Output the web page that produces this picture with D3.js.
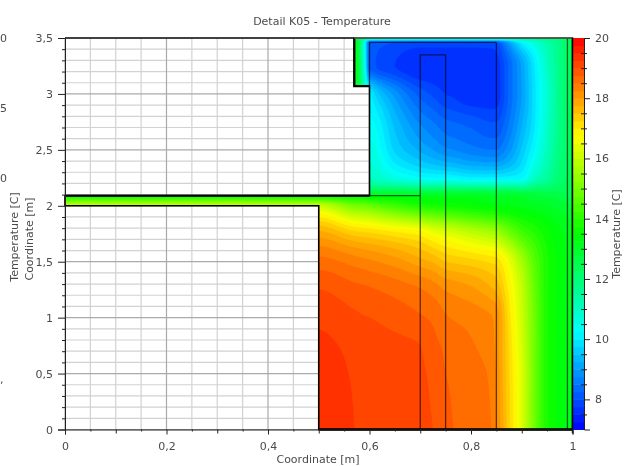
<!DOCTYPE html>
<html><head><meta charset="utf-8">
<script src="https://cdn.jsdelivr.net/npm/d3@7"></script>
<style>
html,body{margin:0;padding:0;background:#fff}
svg{display:block;filter:blur(0.45px)}
text{font-family:"DejaVu Sans",sans-serif;fill:#4a4a4a}
.axis path,.axis line{stroke:#222}
.axis text{font-size:11px;fill:#4a4a4a;font-family:"DejaVu Sans",sans-serif}
</style></head><body><svg id="c" width="624" height="466"></svg>
<script>
const gridX=[0,.5,.57,.59,.6,.65,.7,.725,.75,.765,.8,.84,.85,.875,.9,.925,.95,.975,.99,1];
const gridY=[0,.25,.5,.75,1,1.25,1.5,1.75,2,2.09,2.25,2.5,2.75,3,3.25,3.46,3.5];
const temperature=[
[19.5,19.5,19.25,19.22,19.2,19.12,19.05,19.0,18.82,18.75,18.65,18.5,18.25,17.3,16.3,14.9,13.8,13.4,13.2,13],
[19.45,19.45,19.24,19.2,19.18,19.11,19.04,18.98,18.8,18.73,18.63,18.48,18.22,17.28,16.3,14.9,13.8,13.4,13.2,13],
[19.38,19.38,19.22,19.18,19.17,19.1,19.03,18.95,18.75,18.7,18.6,18.45,18.2,17.25,16.3,14.9,13.8,13.4,13.2,13],
[19.3,19.3,19.18,19.14,19.12,19.06,19.0,18.83,18.7,18.65,18.53,18.35,18.15,17.2,16.2,14.9,13.8,13.4,13.2,13],
[19.2,19.2,19.05,19.01,19,18.9,18.78,18.7,18.53,18.48,18.4,18.27,18.15,17.1,16.1,14.9,13.8,13.4,13.2,13],
[19,19,18.83,18.8,18.78,18.66,18.52,18.4,18.23,18.18,18.06,17.8,17.7,16.9,16.0,14.8,13.8,13.4,13.2,13],
[18.6,18.6,18.4,18.33,18.3,18.12,17.85,17.72,17.5,17.45,17.35,17.2,17.15,16.5,15.6,14.6,13.8,13.4,13.2,13],
[17.85,17.85,17.4,17.33,17.3,17.1,16.9,16.6,16.4,16.3,16,15.7,15.6,15,14.4,14,13.6,13.3,13.2,13],
[16,16,15.0,14.9,14.8,14.3,13.9,13.8,13.7,13.65,13.55,13.4,13.35,13.3,13.2,13.1,13,12.9,12.8,12.7],
[13.5,13.5,13.4,13.3,13.2,13.2,13.1,13.1,13.1,13.1,13.1,13,13,13,12.9,12.8,12.7,12.6,12.5,12.4],
[11,11,11,11,11,10.6,10.3,10.25,10.25,10.2,10.05,10.05,10.05,10.1,10.2,11,11.5,12.1,12.3,12.4],
[10.6,10.6,10.6,10.6,10.6,9.7,9.2,9,8.8,8.75,8.6,8.5,8.5,8.9,9.55,10.25,11.1,11.9,12.2,12.4],
[10.3,10.3,10.3,10.3,10.3,9.4,8.7,8.5,8.3,8.25,8.15,8.0,8.0,8.5,9.2,9.95,10.9,11.8,12.2,12.4],
[13,13,13,11.2,10.1,8.9,8.15,7.95,7.75,7.7,7.55,7.55,7.6,8.3,9,9.9,10.8,11.8,12.2,12.4],
[13.3,13.3,13.3,10.6,8.15,7.75,7.5,7.5,7.5,7.5,7.5,7.5,7.6,8.3,9.05,10,11,11.8,12.2,12.4],
[13.3,13.3,13.3,10.4,8.15,8,7.9,7.9,7.9,7.9,7.9,7.95,8,9,10.1,10.7,11.3,11.8,12.2,12.4],
[12.5,12.5,12.5,12.3,11.8,11.8,11.8,11.8,11.8,11.8,11.8,11.8,11.8,11.8,11.9,12,12.1,12.2,12.3,12.4]];
const colorStops=[7,10.25,13.5,16.75,20];
const colorNames=["#0000ff","#00ffff","#00ff00","#ffff00","#ff0000"];
const bandCount=52;
const xMajor=[0,.2,.4,.6,.8,1], xMid=[.1,.3,.5,.7,.9], xMinor=[.05,.15,.25,.35,.45,.55,.65,.75,.85,.95];
const yMajor=[0,.5,1,1.5,2,2.5,3,3.5];
const yMinor=[.1,.2,.3,.4,.6,.7,.8,.9,1.1,1.2,1.3,1.4,1.6,1.7,1.8,1.9,2.1,2.2,2.3,2.4,2.6,2.7,2.8,2.9,3.1,3.2,3.3,3.4];
const cMajor=[8,10,12,14,16,18,20];
const cMinor=[7.5,8.5,9,9.5,10.5,11,11.5,12.5,13,13.5,14.5,15,15.5,16.5,17,17.5,18.5,19,19.5];
const fieldOutline=[[0,2],[.5,2],[.5,0],[1,0],[1,3.5],[.57,3.5],[.57,3.07],[.6,3.07],[.6,2.09],[0,2.09]];
const thinLines=[[[.6,2.09],[.7,2.09]],[[.7,0],[.7,3.35],[.75,3.35],[.75,0]],[[.85,0],[.85,3.46]],[[.6,3.07],[.6,3.46],[.85,3.46]],[[.99,0],[.99,3.5]]];
const clippedLabels=[["0",38],["5",108],["0",178],[",",379]];

const svg=d3.select("#c");
const x=d3.scaleLinear().domain([0,1]).range([65,572.5]);
const y=d3.scaleLinear().domain([0,3.5]).range([429.5,38]);
const c=d3.scaleLinear().domain([7,20]).range([429.5,38]);
const color=d3.scaleLinear().domain(colorStops).range(colorNames).clamp(true);
const comma=d=>String(d).replace(".",",");

// grid
const gx=svg.append("g");
gx.selectAll("line.a").data(xMinor.concat(xMid)).join("line").attr("x1",x).attr("x2",x).attr("y1",y(0)).attr("y2",y(3.5)).attr("stroke","#d2d2d2").attr("stroke-width",1.2);
gx.selectAll("line.b").data(yMinor).join("line").attr("class","b").attr("y1",y).attr("y2",y).attr("x1",x(0)).attr("x2",x(1)).attr("stroke","#d2d2d2").attr("stroke-width",1.2);
gx.selectAll("line.c").data(xMajor).join("line").attr("class","c").attr("x1",x).attr("x2",x).attr("y1",y(0)).attr("y2",y(3.5)).attr("stroke","#aaa").attr("stroke-width",1.2);
gx.selectAll("line.d").data(yMajor).join("line").attr("class","d").attr("y1",y).attr("y2",y).attr("x1",x(0)).attr("x2",x(1)).attr("stroke","#aaa").attr("stroke-width",1.2);

// field: the table is resampled with monotone cubic segments for drawing, so bands stay smooth without overshoot
function slopes(xs,ys){
  const d=d3.pairs(xs).map(([a,b],i)=>(ys[i+1]-ys[i])/(b-a));
  return xs.map((_,i)=>{
    if(i===0) return d[0];
    if(i===xs.length-1) return d[i-1];
    return d[i-1]*d[i]<=0?0:2*d[i-1]*d[i]/(d[i-1]+d[i]);
  });
}
function sample(xs,ys,ms,t){
  const i=Math.min(xs.length-2,Math.max(0,d3.bisectRight(xs,t)-1));
  const h=xs[i+1]-xs[i],u=(t-xs[i])/h;
  return (2*u*u*u-3*u*u+1)*ys[i]+(u*u*u-2*u*u+u)*h*ms[i]+(-2*u*u*u+3*u*u)*ys[i+1]+(u*u*u-u*u)*h*ms[i+1];
}
const fineN=254,fineM=196;
const fineX=d3.range(fineN).map(i=>(i+.5)/fineN), fineY=d3.range(fineM).map(j=>3.5*(j+.5)/fineM);
const rowsFine=temperature.map(r=>{const s=slopes(gridX,r);return fineX.map(t=>sample(gridX,r,s,t));});
const fineValues=new Array(fineN*fineM);
fineX.forEach((_,i)=>{
  const col=rowsFine.map(r=>r[i]),s=slopes(gridY,col);
  fineY.forEach((t,j)=>{fineValues[j*fineN+i]=sample(gridY,col,s,t);});
});
const line=d3.line().x(d=>x(d[0])).y(d=>y(d[1]));
svg.append("clipPath").attr("id","fc").append("path").attr("d",line(fieldOutline)+"Z");
const step=13/bandCount;
const thresholds=d3.range(bandCount).map(i=>7+i*step);
const contours=d3.contours().size([fineN,fineM]).thresholds([-100,...thresholds.slice(1)]).smooth(true)(fineValues);
const proj=d3.geoTransform({point(px,py){this.stream.point(x(px/fineN),y(3.5*py/fineM));}});
const path=d3.geoPath(proj);
const bandFill=v=>color((v<7?7:v)+step/2);
svg.append("g").attr("clip-path","url(#fc)").selectAll("path").data(contours).join("path")
 .attr("d",path).attr("fill",d=>bandFill(d.value)).attr("stroke",d=>bandFill(d.value)).attr("stroke-width",.3);

// inner lines
svg.append("g").selectAll("path").data(thinLines).join("path").attr("d",line).attr("fill","none").attr("stroke","#000").attr("stroke-opacity",.62).attr("stroke-width",1.3);
// outline
svg.append("path").attr("d",line(fieldOutline)+"Z").attr("fill","none").attr("stroke","#000").attr("stroke-width",1.6);
svg.append("path").attr("d",line([[0,2.09],[.6,2.09]])).attr("stroke","#000").attr("stroke-width",2.2);
svg.append("path").attr("d",line([[.57,3.5],[.57,3.07],[.6,3.07]])).attr("fill","none").attr("stroke","#000").attr("stroke-width",2.2);
svg.append("path").attr("d",line([[.5,0],[1,0]])).attr("stroke","#000").attr("stroke-width",2.4);
// frame
svg.append("path").attr("d",line([[0,3.5],[.57,3.5]])).attr("stroke","#111").attr("stroke-width",1.5);
svg.append("path").attr("d",line([[.57,3.5],[1,3.5]])).attr("stroke","#666").attr("stroke-width",1.5);

// colorbar
svg.append("g").selectAll("rect").data(thresholds).join("rect")
 .attr("x",573).attr("width",11).attr("y",d=>c(d+step)).attr("height",d=>c(d)-c(d+step)+.5).attr("fill",d=>color(d+step/2));
svg.append("line").attr("x1",572.5).attr("x2",572.5).attr("y1",38).attr("y2",433).attr("stroke","#000").attr("stroke-width",1.4);

// axes
const left=d3.axisLeft(y).tickValues(yMajor).tickSize(7).tickPadding(5).tickFormat(comma);
svg.append("g").attr("class","axis").attr("transform","translate(65,0)").call(left);
svg.append("g").attr("class","axis").attr("transform","translate(65,0)").call(d3.axisLeft(y).tickValues(yMinor).tickSize(3).tickFormat("")).select("path").remove();
const bottom=d3.axisBottom(x).tickValues(xMajor).tickSize(5).tickPadding(8).tickFormat(comma);
svg.append("g").attr("class","axis").attr("transform","translate(0,429.5)").call(bottom);
svg.append("g").attr("class","axis").attr("transform","translate(0,429.5)").call(d3.axisBottom(x).tickValues(xMid).tickSize(4).tickFormat("")).select("path").remove();
svg.append("g").attr("class","axis").attr("transform","translate(0,429.5)").call(d3.axisBottom(x).tickValues(xMinor).tickSize(2).tickFormat("")).select("path").remove();
const right=d3.axisRight(c).tickValues(cMajor).tickSize(6).tickPadding(5).tickFormat(d3.format("d"));
svg.append("g").attr("class","axis").attr("transform","translate(584,0)").call(right);
svg.append("g").attr("class","axis").attr("transform","translate(584,0)").call(d3.axisRight(c).tickValues(cMinor).tickSize(3).tickFormat("")).select("path").remove();
svg.append("g").attr("class","axis").attr("transform","translate(584,0)").call(d3.axisLeft(c).tickValues(cMinor).tickSize(3).tickFormat("")).select("path").remove();

// labels
const label=(t,xp,yp,rot,fs)=>svg.append("text").text(t).attr("text-anchor","middle").attr("font-size",fs).attr("transform",`translate(${xp},${yp})`+(rot?` rotate(${rot})`:""));
label("Detail K05 - Temperature",322,25,0,11);
label("Coordinate [m]",318,463,0,11);
label("Coordinate [m]",33,239,-90,11);
label("Temperature [C]",18,237,-90,11);
label("Temperature [C]",620,234,-90,11);
svg.append("g").selectAll("text").data(clippedLabels).join("text").text(d=>d[0]).attr("x",0).attr("y",d=>d[1]+4).attr("font-size",11);
</script></body></html>
